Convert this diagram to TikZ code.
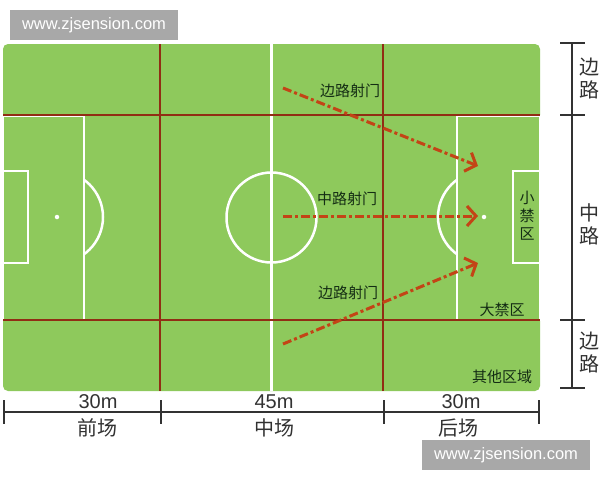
\documentclass[tikz,border=0pt]{standalone}
\usepackage{fontspec}
\setmainfont{Liberation Sans}
\newfontfamily\cjk{Noto Sans CJK SC}
\usetikzlibrary{arrows.meta,positioning}

\definecolor{pitchgreen}{RGB}{142,201,92}
\definecolor{zonered}{RGB}{145,45,20}
\definecolor{shotred}{RGB}{195,68,22}
\definecolor{markgray}{RGB}{168,168,168}
\definecolor{fieldtext}{RGB}{20,45,20}
\definecolor{dimgray}{RGB}{50,50,50}

\tikzset{
  chalk/.style={draw=white, line width=2.5pt},
  zone/.style={draw=zonered, line width=2pt},
  shot/.style={draw=shotred, line width=3pt,
    dash pattern=on 9pt off 3pt on 3pt off 3pt,
    -{Straight Barb[length=9pt, width=20pt]}},
  fieldlabel/.style={font=\cjk\fontsize{15}{18}\selectfont, text=fieldtext},
  dimline/.style={draw=dimgray, line width=1.2pt},
  dimlabel/.style={font=\fontsize{20}{22}\selectfont, text=dimgray},
  dimcjk/.style={font=\cjk\fontsize{20}{23}\selectfont, text=dimgray},
  watermark/.style={rectangle, fill=markgray, text=white,
    minimum width=168pt, minimum height=30pt,
    font=\fontsize{16.5}{18}\selectfont},
}

\begin{document}
\begin{tikzpicture}[x=1pt, y=-1pt, inner sep=0, outer sep=0]
  \fill[white] (0,0) rectangle (600,480);
  \useasboundingbox (0,0) rectangle (600,480);

  \node[rectangle, fill=pitchgreen, rounded corners=5pt,
    minimum width=537pt,
    minimum height=347pt] (field) at (271.5,217.5) {};

  % halfway line and centre circle
  \draw[chalk] (field.north) -- (field.south);
  \draw[chalk] (field.center) circle[radius=45];

  \node[chalk, rectangle, anchor=west, minimum width=81pt, minimum height=204pt] (lbox) at (3,218) {};
  \node[chalk, rectangle, anchor=west, minimum width=25pt, minimum height=92pt] (lgoal) at (3,217) {};
  \node[circle, fill=white, minimum size=4.5pt] (lspot) at (57,217) {};
  \begin{scope}
    \clip (lbox.north east) rectangle ++(30,204);
    \draw[chalk] (lspot.center) circle[radius=46];
  \end{scope}

  \node[chalk, rectangle, anchor=east, minimum width=83pt, minimum height=204pt] (rbox) at (540,218) {};
  \node[chalk, rectangle, anchor=east, minimum width=27pt, minimum height=92pt] (rgoal) at (540,217) {};
  \node[circle, fill=white, minimum size=4.5pt] (rspot) at (484,217) {};
  \begin{scope}
    \clip (rbox.north west) rectangle ++(-30,204);
    \draw[chalk] (rspot.center) circle[radius=46];
  \end{scope}

  % zone lines
  \coordinate (frontline) at (160,44);
  \coordinate (backline) at (383,44);
  \coordinate (topwing) at (3,115);
  \coordinate (botwing) at (3,320);
  \draw[zone] (frontline) -- (frontline |- field.south);
  \draw[zone] (backline) -- (backline |- field.south);
  \draw[zone] (topwing) -- (topwing -| field.east);
  \draw[zone] (botwing) -- (botwing -| field.east);

  % shots
  \coordinate (topshot) at (283,88);
  \coordinate (topaim) at (478,166);
  \coordinate (midshot) at (283,216);
  \coordinate (midaim) at (478,216);
  \coordinate (botshot) at (283,344);
  \coordinate (botaim) at (478,263);
  \draw[shot] (topshot) -- (topaim);
  \draw[shot] (midshot) -- (midaim);
  \draw[shot] (botshot) -- (botaim);
  \node[fieldlabel] (toplabel) at (350,91) {边路射门};
  \node[fieldlabel] (midlabel) at (347,199) {中路射门};
  \node[fieldlabel] (botlabel) at (348,293) {边路射门};

  \node[fieldlabel, align=center] (smallbox) at (527,216) {小\\禁\\区};
  \node[fieldlabel] (bigbox) at (502,310) {大禁区};
  \node[fieldlabel] (otherzone) at (502,377) {其他区域};

  % length scale
  \coordinate (len0) at (4,412);
  \coordinate (len1) at (161,412);
  \coordinate (len2) at (384,412);
  \coordinate (len3) at (539,412);
  \draw[dimline] (len0) -- (len3);
  \draw[dimline] ([yshift=12pt]len0) -- ([yshift=-12pt]len0);
  \draw[dimline] ([yshift=12pt]len1) -- ([yshift=-12pt]len1);
  \draw[dimline] ([yshift=12pt]len2) -- ([yshift=-12pt]len2);
  \draw[dimline] ([yshift=12pt]len3) -- ([yshift=-12pt]len3);
  \node[dimlabel] (frontlen) at (98,402) {30m};
  \node[dimlabel] (midlen) at (274,402) {45m};
  \node[dimlabel] (backlen) at (461,402) {30m};
  \node[dimcjk] (frontname) at (97,428) {前场};
  \node[dimcjk] (midname) at (274,428) {中场};
  \node[dimcjk] (backname) at (458,428) {后场};

  % width scale
  \coordinate (wid0) at (572,43);
  \coordinate (wid1) at (572,115);
  \coordinate (wid2) at (572,320);
  \coordinate (wid3) at (572,388);
  \draw[dimline] (wid0) -- (wid3);
  \draw[dimline] ([xshift=-12pt]wid0) -- ([xshift=13pt]wid0);
  \draw[dimline] ([xshift=-12pt]wid1) -- ([xshift=13pt]wid1);
  \draw[dimline] ([xshift=-12pt]wid2) -- ([xshift=13pt]wid2);
  \draw[dimline] ([xshift=-12pt]wid3) -- ([xshift=13pt]wid3);
  \node[dimcjk, align=center, anchor=west] (topwingname) at (579,79) {边\\路};
  \node[dimcjk, align=center, anchor=west] (midwayname) at (579,224) {中\\路};
  \node[dimcjk, align=center, anchor=west] (botwingname) at (579,353) {边\\路};

  \node[watermark] (marktop) at (94,25) {www.zjsension.com};
  \node[watermark] (markbot) at (506,455) {www.zjsension.com};
\end{tikzpicture}
\end{document}
